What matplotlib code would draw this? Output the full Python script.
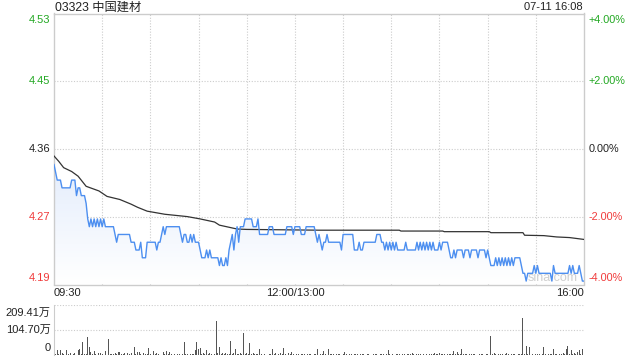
import matplotlib
matplotlib.use("Agg")
import matplotlib.pyplot as plt
import numpy as np
from matplotlib.colors import LinearSegmentedColormap

plt.rcParams['font.family'] = ['Liberation Sans', 'Noto Sans CJK SC', 'DejaVu Sans']

title = "03323 中国建材"
stamp = "07-11 16:08"
prev_close = 4.36

# minute-by-minute price, 09:30-12:00 then 13:00-16:00 (331 points)
price = [
    4.34, 4.33, 4.32, 4.32, 4.32, 4.31, 4.31, 4.31, 4.31, 4.31,
    4.31, 4.32, 4.32, 4.32, 4.30, 4.31, 4.31, 4.30, 4.30, 4.30,
    4.29, 4.27, 4.26, 4.27, 4.26, 4.27, 4.26, 4.27, 4.26, 4.27,
    4.26, 4.27, 4.26, 4.26, 4.26, 4.26, 4.26, 4.26, 4.25, 4.24,
    4.25, 4.25, 4.25, 4.25, 4.25, 4.25, 4.25, 4.25, 4.24, 4.24,
    4.24, 4.23, 4.23, 4.23, 4.24, 4.22, 4.22, 4.22, 4.24, 4.24,
    4.24, 4.24, 4.24, 4.24, 4.23, 4.24, 4.24, 4.25, 4.26, 4.25,
    4.26, 4.26, 4.26, 4.26, 4.26, 4.26, 4.26, 4.26, 4.26, 4.25,
    4.24, 4.25, 4.25, 4.24, 4.24, 4.25, 4.24, 4.25, 4.24, 4.24,
    4.24, 4.23, 4.22, 4.22, 4.22, 4.23, 4.22, 4.23, 4.22, 4.22,
    4.22, 4.22, 4.22, 4.21, 4.22, 4.21, 4.21, 4.22, 4.21, 4.23,
    4.24, 4.25, 4.23, 4.25, 4.26, 4.24, 4.26, 4.26, 4.26, 4.27,
    4.27, 4.27, 4.27, 4.27, 4.26, 4.26, 4.26, 4.27, 4.25, 4.25,
    4.25, 4.25, 4.25, 4.25, 4.26, 4.26, 4.26, 4.25, 4.25, 4.25,
    4.25, 4.25, 4.25, 4.25, 4.25, 4.26, 4.26, 4.26, 4.26, 4.25,
    4.26, 4.26, 4.26, 4.26, 4.25, 4.25, 4.25, 4.26, 4.26, 4.26,
    4.26, 4.26, 4.26, 4.25, 4.24, 4.25, 4.24, 4.23, 4.24, 4.24,
    4.25, 4.24, 4.24, 4.24, 4.24, 4.24, 4.24, 4.24, 4.24, 4.23,
    4.25, 4.25, 4.25, 4.25, 4.25, 4.25, 4.25, 4.23, 4.23, 4.23,
    4.24, 4.23, 4.23, 4.24, 4.24, 4.24, 4.24, 4.24, 4.24, 4.24,
    4.24, 4.25, 4.25, 4.25, 4.24, 4.24, 4.23, 4.24, 4.23, 4.24,
    4.23, 4.24, 4.23, 4.24, 4.23, 4.23, 4.23, 4.23, 4.23, 4.24,
    4.23, 4.23, 4.23, 4.23, 4.23, 4.23, 4.24, 4.23, 4.24, 4.23,
    4.24, 4.23, 4.24, 4.23, 4.24, 4.23, 4.24, 4.23, 4.23, 4.23,
    4.24, 4.23, 4.24, 4.24, 4.24, 4.24, 4.23, 4.22, 4.22, 4.23,
    4.22, 4.23, 4.23, 4.23, 4.23, 4.22, 4.23, 4.23, 4.23, 4.22,
    4.23, 4.23, 4.23, 4.23, 4.22, 4.23, 4.23, 4.23, 4.23, 4.22,
    4.23, 4.22, 4.21, 4.21, 4.21, 4.22, 4.21, 4.22, 4.21, 4.22,
    4.21, 4.22, 4.21, 4.22, 4.21, 4.22, 4.21, 4.22, 4.22, 4.22,
    4.22, 4.21, 4.20, 4.20, 4.19, 4.20, 4.20, 4.20, 4.20, 4.21,
    4.20, 4.21, 4.20, 4.20, 4.20, 4.20, 4.20, 4.20, 4.20, 4.20,
    4.19, 4.21, 4.20, 4.20, 4.20, 4.20, 4.20, 4.20, 4.20, 4.20,
    4.20, 4.21, 4.20, 4.21, 4.20, 4.20, 4.20, 4.21, 4.20, 4.19, 4.19,
]

# average price line, read at these minutes
avg_min = [0, 3, 6, 11, 15, 20, 28, 33, 41, 48, 52, 58, 69, 83, 91, 100, 103,
           114, 120, 165, 215, 216, 242, 243, 271, 272, 292, 293, 305, 313, 321, 330]
avg_val = [4.351, 4.344, 4.336, 4.331, 4.325, 4.312, 4.306, 4.299, 4.295, 4.289,
           4.285, 4.280, 4.276, 4.273, 4.270, 4.266, 4.262, 4.257, 4.2565, 4.2555,
           4.2555, 4.2544, 4.2544, 4.2536, 4.2536, 4.2523, 4.2523, 4.2490, 4.2485,
           4.2468, 4.2460, 4.2436]

# volume per minute, in 万 shares
volume = [
    38, 6, 21, 4, 21, 10, 3, 2, 21, 3, 7, 2, 3, 7, 2, 21, 25, 3, 56, 4,
    3, 77, 35, 14, 4, 17, 3, 2, 7, 7, 3, 2, 18, 3, 66, 4, 4, 3, 10, 3,
    14, 13, 3, 4, 10, 2, 7, 3, 7, 2, 35, 3, 14, 13, 3, 2, 7, 3, 3, 28,
    3, 2, 17, 3, 10, 3, 10, 2, 14, 3, 17, 4, 13, 3, 2, 4, 2, 4, 3, 2,
    3, 56, 3, 4, 2, 3, 4, 3, 21, 56, 24, 28, 3, 10, 3, 21, 3, 10, 3, 7,
    3, 142, 7, 35, 3, 7, 3, 10, 3, 4, 60, 3, 7, 25, 3, 4, 7, 3, 94, 3,
    7, 3, 52, 3, 7, 3, 4, 3, 25, 3, 2, 3, 7, 2, 3, 4, 25, 3, 7, 2,
    3, 10, 3, 31, 3, 2, 7, 3, 11, 3, 2, 4, 3, 2, 3, 4, 3, 2, 3, 4,
    3, 2, 3, 3, 25, 14, 3, 4, 18, 3, 2, 25, 3, 4, 3, 2, 3, 4, 3, 2,
    3, 14, 3, 2, 4, 3, 2, 3, 4, 3, 2, 3, 3, 4, 2, 3, 3, 2, 14, 3,
    4, 3, 2, 3, 4, 3, 2, 3, 21, 3, 2, 3, 2, 3, 4, 3, 2, 3, 3, 2,
    4, 3, 3, 10, 3, 2, 4, 3, 3, 2, 3, 4, 3, 2, 3, 3, 4, 10, 3, 4,
    10, 3, 4, 3, 2, 4, 3, 3, 4, 17, 3, 13, 3, 4, 25, 3, 4, 3, 2, 3,
    3, 4, 3, 2, 3, 4, 3, 3, 2, 3, 3, 2, 81, 3, 10, 3, 2, 4, 3, 3,
    2, 4, 10, 3, 2, 3, 4, 3, 2, 3, 3, 4, 156, 3, 39, 3, 35, 10, 3, 2,
    4, 3, 3, 2, 4, 35, 3, 2, 4, 3, 3, 25, 3, 4, 2, 3, 4, 10, 3, 25,
    39, 3, 21, 4, 10, 3, 14, 21, 3, 24, 209.41,
]

time_ticks = [0, 150, 330]
time_labels = ["09:30", "12:00/13:00", "16:00"]
pct_levels = [0.04, 0.02, 0.0, -0.02, -0.04]
vol_max = 209.41

GREEN = "#22a822"
RED = "#f03a3a"
BLUE = "#4d8ff0"
GRID = "#cccccc"

minutes = np.arange(len(price))
price = np.array(price)

fig = plt.figure(figsize=(6.4, 3.6), dpi=100)
ax = fig.add_axes([54 / 640, 1 - 284.5 / 360, 530 / 640, 271 / 360])
axv = fig.add_axes([54 / 640, 1 - 355 / 360, 530 / 640, 50 / 360])

ymin = prev_close * (1 - 0.04)
ymax = prev_close * (1 + 0.04)

# gradient fill under the price line
cmap = LinearSegmentedColormap.from_list("fade", ["#ffffff", "#e4edfc"])
grad = np.linspace(0, 1, 256).reshape(-1, 1)
im = ax.imshow(grad, extent=[0, 330, ymin, price.max()], origin="lower",
               aspect="auto", cmap=cmap, zorder=1)
poly = ax.fill_between(minutes, price, ymin, facecolor="none", edgecolor="none")
im.set_clip_path(poly.get_paths()[0], transform=ax.transData)

ax.annotate("sina.com", xy=(0.94, 0), xycoords="axes fraction",
            xytext=(0, 5), textcoords="offset points",
            color="#cfcfcf", fontsize=9, ha="center", va="center", zorder=3)
ax.plot(minutes, price, color=BLUE, lw=1.0, zorder=4)
ax.plot(avg_min, avg_val, color="#333333", lw=0.9, zorder=3)

ax.set_xlim(0, 330)
ax.set_ylim(ymin, ymax)
ax.set_xticks([])
ax.set_yticks([])
for s in ax.spines.values():
    s.set_color(GRID)
    s.set_linewidth(1.0)

for m in range(30, 330, 30):
    ax.axvline(m, color=GRID, lw=0.8, ls=(0, (1, 1.5)), zorder=0)
for p in [0.02, 0.0, -0.02]:
    ax.axhline(prev_close * (1 + p), color=GRID, lw=0.8, ls=(0, (1, 1.5)), zorder=0)

for p in pct_levels:
    yv = prev_close * (1 + p)
    col = GREEN if p > 0 else (RED if p < 0 else "#222222")
    dy = -5 if p == 0.04 else (5 if p == -0.04 else 0)
    ax.annotate(f"{yv:.2f}", xy=(0, yv), xycoords=("axes fraction", "data"),
                xytext=(-2.5, dy), textcoords="offset points",
                ha="right", va="center", fontsize=8, color=col)
    lbl = "0.00%" if p == 0 else f"{p * 100:+.2f}%"
    ax.annotate(lbl, xy=(1, yv), xycoords=("axes fraction", "data"),
                xytext=(3.5, dy), textcoords="offset points",
                ha="left", va="center", fontsize=7.8, color=col)

for m, lbl in zip(time_ticks, time_labels):
    ha = "left" if m == 0 else ("right" if m == 330 else "center")
    ax.annotate(lbl, xy=(m, 0), xycoords=("data", "axes fraction"),
                xytext=(0, -6.3), textcoords="offset points",
                ha=ha, va="center", fontsize=8, color="#222222")

fig.text(55 / 640, 1 - 7.5 / 360, title, ha="left", va="center", fontsize=8.8, color="#222222")
fig.text(583 / 640, 1 - 7.5 / 360, stamp, ha="right", va="center", fontsize=8, color="#222222")

# volume panel
axv.bar(minutes, volume, width=0.6, color="#555555", zorder=2)
axv.set_xlim(0, 330)
axv.set_ylim(0, vol_max)
axv.set_xticks([])
axv.set_yticks([])
for side in ["top", "right", "bottom"]:
    axv.spines[side].set_visible(False)
axv.spines["left"].set_color(GRID)
for v in [vol_max, vol_max / 2]:
    axv.axhline(v, color=GRID, lw=0.8, ls=(0, (1, 1.5)), zorder=0)

for v, lbl, dy in [(vol_max, f"{vol_max:.2f}万", -5.5), (vol_max / 2, f"{vol_max / 2:.2f}万", 0), (0, "0", 5)]:
    axv.annotate(lbl, xy=(0, v), xycoords=("axes fraction", "data"),
                 xytext=(-2.5, dy), textcoords="offset points",
                 ha="right", va="center", fontsize=8, color="#222222")

fig.savefig("out.png", dpi=100)
